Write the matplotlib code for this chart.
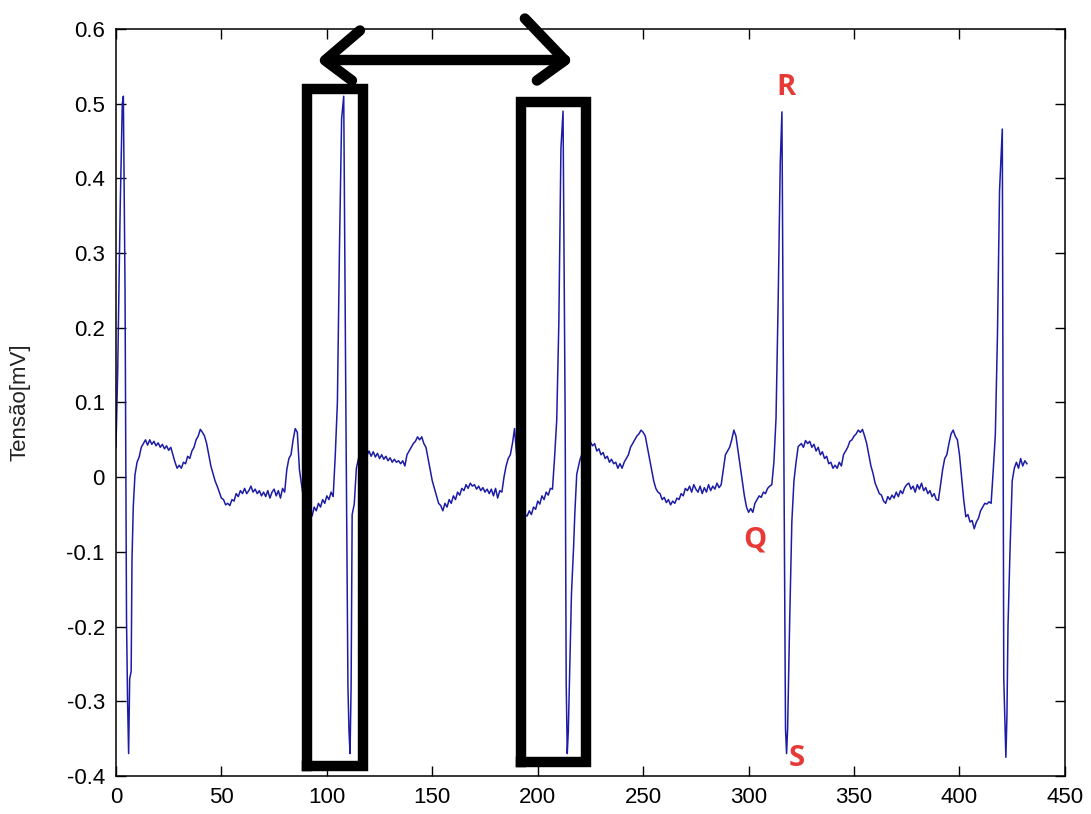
import matplotlib
matplotlib.use("Agg")
import matplotlib.pyplot as plt
import numpy as np

plt.rcParams['font.family'] = ['Liberation Sans', 'DejaVu Sans']
plt.rcParams['axes.unicode_minus'] = False

# ---- data ----
sample = [
    0, 0.8, 2, 3, 3.5, 4.3, 5, 5.5, 6, 6.5, 7.2, 7.6, 8.2, 9, 10, 11, 12, 13, 14,
    15, 16, 17, 18, 19, 20, 21, 22, 23, 24, 25, 26, 27, 28, 29, 30, 31, 32, 33, 34,
    35, 36, 37, 38, 39, 40, 41, 42, 43, 44, 45, 46, 47, 48, 49, 50, 51, 52, 53, 54,
    55, 56, 57, 58, 59, 60, 61, 62, 63, 64, 65, 66, 67, 68, 69, 70, 71, 72, 73, 74,
    75, 76, 77, 78, 79, 80, 81, 82, 83, 84, 85, 86, 87, 88, 89, 90, 91, 92, 93, 94,
    95, 96, 97, 98, 99, 100, 101, 102, 103, 104, 105, 106, 107, 108, 109, 110, 110.5, 111, 111.5, 112,
    113, 114, 115, 116, 117, 118, 119, 120, 121, 122, 123, 124, 125, 126, 127, 128, 129, 130, 131, 132,
    133, 134, 135, 136, 137, 138, 139, 140, 141, 142, 143, 144, 145, 146, 147, 148, 149, 150, 151, 152,
    153, 154, 155, 156, 157, 158, 159, 160, 161, 162, 163, 164, 165, 166, 167, 168, 169, 170, 171, 172,
    173, 174, 175, 176, 177, 178, 179, 180, 181, 182, 183, 184, 185, 186, 187, 188, 189, 190, 191, 192,
    193, 194, 195, 196, 197, 198, 199, 200, 201, 202, 203, 204, 205, 206, 207, 208, 209, 210, 211, 212,
    213, 213.5, 214, 214.5, 215, 216, 217, 217.6, 218.5, 220, 221.5, 223, 225, 226, 227, 228, 229, 230, 231, 232,
    233, 234, 235, 236, 237, 238, 239, 240, 241, 242, 243, 244, 245, 246, 247, 248, 249, 250, 251, 252,
    253, 254, 255, 256, 257, 258, 259, 260, 261, 262, 263, 264, 265, 266, 267, 268, 269, 270, 271, 272,
    273, 274, 275, 276, 277, 278, 279, 280, 281, 282, 283, 284, 285, 286, 287, 288, 289, 290, 291, 292,
    293, 294, 295, 296, 297, 298, 299, 300, 301, 302, 303, 304, 305, 306, 307, 308, 309, 310, 311, 312,
    313, 314, 315, 315.8, 316.5, 317.5, 318, 318.5, 319.5, 320.5, 321.5, 322.5, 323.5, 325, 326, 327, 328, 329, 330, 331,
    332, 333, 334, 335, 336, 337, 338, 339, 340, 341, 342, 343, 344, 345, 346, 347, 348, 349, 350, 351,
    352, 353, 354, 355, 356, 357, 358, 359, 360, 361, 362, 363, 364, 365, 366, 367, 368, 369, 370, 371,
    372, 373, 374, 375, 376, 377, 378, 379, 380, 381, 382, 383, 384, 385, 386, 387, 388, 389, 390, 391,
    392, 393, 394, 395, 396, 397, 398, 399, 400, 401, 402, 403, 404, 405, 406, 407, 408, 409, 410, 411,
    412, 413, 414, 415, 416, 417, 418, 419, 420.3, 421, 421.5, 422, 422.5, 423, 424, 425, 426, 427, 428, 429,
    430, 431, 432,
]
tensao_mv = [
    0.04, 0.14, 0.36, 0.50, 0.51, 0.25, -0.19, -0.30, -0.37, -0.27, -0.26, -0.11, -0.04, 0.003, 0.02, 0.027, 0.04, 0.045, 0.05,
    0.043, 0.05, 0.044, 0.048, 0.042, 0.046, 0.04, 0.044, 0.038, 0.042, 0.036, 0.04, 0.03, 0.02, 0.012, 0.016, 0.012, 0.02, 0.018, 0.028,
    0.025, 0.035, 0.04, 0.05, 0.055, 0.064, 0.06, 0.055, 0.045, 0.03, 0.015, 0.005, -0.005, -0.012, -0.02, -0.028, -0.03, -0.037, -0.035, -0.038,
    -0.03, -0.032, -0.022, -0.026, -0.018, -0.022, -0.015, -0.022, -0.018, -0.012, -0.02, -0.016, -0.022, -0.018, -0.025, -0.02, -0.026, -0.018, -0.028, -0.02,
    -0.016, -0.025, -0.018, -0.028, -0.015, -0.02, 0.01, 0.025, 0.03, 0.05, 0.065, 0.06, 0.01, -0.01, -0.03, -0.045, -0.05, -0.045, -0.052, -0.04,
    -0.045, -0.035, -0.04, -0.03, -0.035, -0.025, -0.03, -0.02, -0.026, 0.03, 0.10, 0.31, 0.48, 0.51, 0.10, -0.28, -0.34, -0.37, -0.28, -0.05,
    -0.036, 0.012, 0.025, 0.03, 0.035, 0.03, 0.029, 0.035, 0.028, 0.034, 0.027, 0.032, 0.025, 0.03, 0.024, 0.028, 0.022, 0.026, 0.02, 0.024,
    0.02, 0.022, 0.018, 0.022, 0.015, 0.03, 0.035, 0.04, 0.045, 0.048, 0.054, 0.05, 0.054, 0.045, 0.04, 0.025, 0.01, -0.005, -0.015, -0.025,
    -0.035, -0.038, -0.045, -0.035, -0.04, -0.03, -0.035, -0.025, -0.03, -0.02, -0.024, -0.015, -0.018, -0.01, -0.015, -0.008, -0.012, -0.01, -0.016, -0.012,
    -0.018, -0.014, -0.02, -0.016, -0.022, -0.016, -0.025, -0.015, -0.028, -0.018, -0.02, 0.0, 0.015, 0.025, 0.03, 0.045, 0.065, 0.03, -0.01, -0.035,
    -0.045, -0.05, -0.052, -0.045, -0.05, -0.04, -0.043, -0.032, -0.036, -0.025, -0.03, -0.02, -0.024, -0.015, -0.016, 0.027, 0.076, 0.205, 0.44, 0.49,
    0.08, -0.275, -0.37, -0.34, -0.28, -0.156, -0.094, -0.048, 0.004, 0.023, 0.035, 0.045, 0.047, 0.042, 0.045, 0.035, 0.038, 0.03, 0.033, 0.025,
    0.028, 0.02, 0.024, 0.018, 0.02, 0.012, 0.018, 0.012, 0.02, 0.025, 0.03, 0.04, 0.045, 0.05, 0.055, 0.058, 0.063, 0.06, 0.055, 0.04,
    0.025, 0.01, -0.005, -0.015, -0.02, -0.022, -0.03, -0.027, -0.034, -0.03, -0.037, -0.032, -0.035, -0.028, -0.03, -0.022, -0.025, -0.015, -0.018, -0.012,
    -0.02, -0.01, -0.016, -0.02, -0.012, -0.022, -0.014, -0.02, -0.01, -0.018, -0.012, -0.016, -0.008, -0.014, -0.01, 0.01, 0.03, 0.035, 0.04, 0.05,
    0.063, 0.055, 0.035, 0.015, -0.005, -0.025, -0.04, -0.047, -0.042, -0.047, -0.035, -0.03, -0.025, -0.027, -0.02, -0.022, -0.015, -0.012, -0.01, 0.02,
    0.079, 0.233, 0.42, 0.489, 0.137, -0.337, -0.37, -0.337, -0.189, -0.06, -0.005, 0.02, 0.041, 0.045, 0.04, 0.049, 0.045, 0.048, 0.04, 0.044,
    0.035, 0.04, 0.03, 0.034, 0.025, 0.028, 0.018, 0.02, 0.012, 0.016, 0.012, 0.02, 0.015, 0.03, 0.035, 0.04, 0.048, 0.05, 0.055, 0.058,
    0.063, 0.06, 0.064, 0.055, 0.045, 0.03, 0.015, 0.005, -0.008, -0.015, -0.022, -0.024, -0.032, -0.035, -0.026, -0.03, -0.024, -0.028, -0.02, -0.026,
    -0.018, -0.022, -0.014, -0.01, -0.008, -0.016, -0.012, -0.02, -0.01, -0.016, -0.008, -0.018, -0.014, -0.022, -0.018, -0.026, -0.022, -0.03, -0.031, -0.01,
    0.01, 0.025, 0.03, 0.045, 0.058, 0.063, 0.055, 0.05, 0.03, 0.0, -0.03, -0.053, -0.05, -0.06, -0.058, -0.069, -0.06, -0.055, -0.045, -0.04,
    -0.035, -0.036, -0.033, -0.035, 0.009, 0.057, 0.19, 0.384, 0.466, -0.27, -0.32, -0.375, -0.32, -0.2, -0.094, -0.005, 0.012, 0.02, 0.012, 0.025,
    0.015, 0.022, 0.018,
]

x_ticks = [0, 50, 100, 150, 200, 250, 300, 350, 400, 450]
y_ticks = [-0.4, -0.3, -0.2, -0.1, 0, 0.1, 0.2, 0.3, 0.4, 0.5, 0.6]
y_tick_labels = ['-0.4', '-0.3', '-0.2', '-0.1', '0', '0.1', '0.2', '0.3', '0.4', '0.5', '0.6']

# highlight boxes: (x_left, x_right, y_bottom, y_top)
boxes = [(90.6, 117.1, -0.386, 0.520), (192.2, 223.0, -0.381, 0.502)]

# double arrow (hand drawn)
arrow_shaft_x = [99.5, 212.9]
arrow_shaft_y = [0.559, 0.559]
arrow_left_x = [115.7, 99.1, 111.9]
arrow_left_y = [0.598, 0.558, 0.531]
arrow_right_x = [193.9, 212.9, 199.6]
arrow_right_y = [0.614, 0.558, 0.531]

wave_labels = ['R', 'Q', 'S']
wave_label_x = [317.7, 303.0, 322.9]
wave_label_y = [0.522, -0.084, -0.376]

# ---- figure ----
fig = plt.figure(figsize=(10.91, 8.14), dpi=100)
ax = fig.add_axes([0.1063, 0.0467, 0.8698, 0.9177])

ax.plot(sample, tensao_mv, color='#1c1ca6', linewidth=1.1)

ax.set_xlim(0, 450)
ax.set_ylim(-0.4, 0.6)
ax.set_xticks(x_ticks)
ax.set_yticks(y_ticks)
ax.set_yticklabels(y_tick_labels)
ax.tick_params(direction='in', length=7, width=1, top=True, right=True,
               labelsize=16, pad=8, colors='black')
for s in ax.spines.values():
    s.set_linewidth(1.1)
ax.set_ylabel('Tensão[mV]', fontsize=16, labelpad=26, color='#222222')

for (x0, x1, y0, y1) in boxes:
    ax.plot([x0, x1, x1, x0, x0], [y0, y0, y1, y1, y0], color='black',
            linewidth=7.5, solid_joinstyle='miter', clip_on=False, zorder=5)

arrow_kw = dict(color='black', linewidth=7.5, solid_capstyle='round',
                solid_joinstyle='round', clip_on=False, zorder=6)
ax.plot(arrow_shaft_x, arrow_shaft_y, **arrow_kw)
ax.plot(arrow_left_x, arrow_left_y, **arrow_kw)
ax.plot(arrow_right_x, arrow_right_y, **arrow_kw)

for lab, lx, ly in zip(wave_labels, wave_label_x, wave_label_y):
    ax.text(lx, ly, lab, color='#e63a36', fontsize=21, fontweight='bold',
            ha='center', va='center', family=['Open Sans', 'DejaVu Sans'],
            zorder=7)

fig.savefig('out.png', dpi=100)
